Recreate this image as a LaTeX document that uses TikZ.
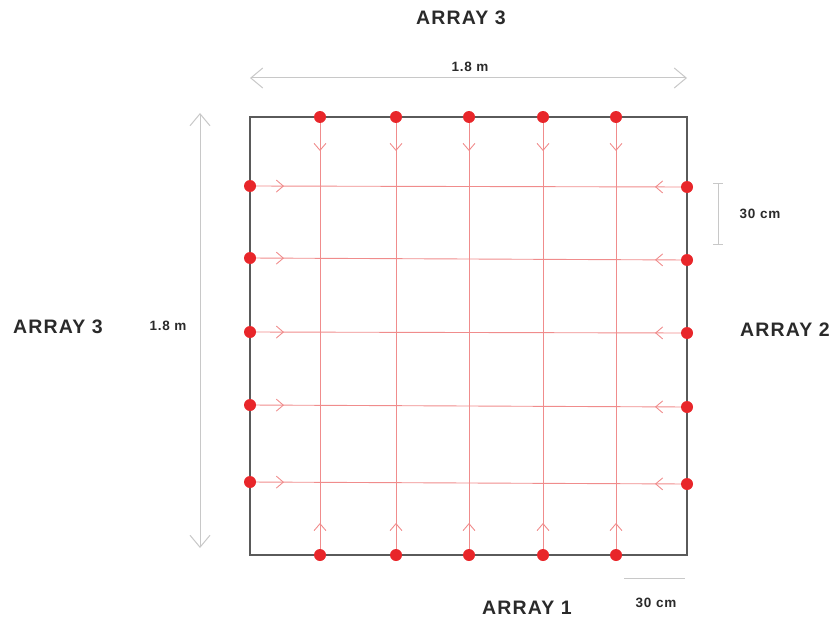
\documentclass[tikz,border=0pt]{standalone}
\usepackage{fontspec}
\setmainfont{Liberation Sans}
\newfontfamily\lblfont[LetterSpace=6]{Liberation Sans}
\usetikzlibrary{arrows.meta,decorations.markings}
\definecolor{dotred}{HTML}{E8262A}
\definecolor{linered}{HTML}{F08C8C}
\definecolor{dimgray}{HTML}{C8C8C8}
\definecolor{boxgray}{HTML}{5A5A5A}
\definecolor{txt}{HTML}{2A2A2A}
\tikzset{
  dot/.style={circle,fill=dotred,inner sep=0pt,minimum size=12pt},
  vline/.style={draw=linered,line width=0.9pt,postaction={decorate},
    decoration={markings,
      mark=at position 34pt with {\arrow[linered,line width=0.9pt]{Straight Barb[length=7pt,width=12pt]}},
      mark=at position -32pt with {\arrowreversed[linered,line width=0.9pt]{Straight Barb[length=7pt,width=12pt]}}}},
  dimline/.style={draw=dimgray,line width=1pt},
  dimtip/.style={draw=dimgray,line width=1pt,{Straight Barb[length=12pt,width=20pt]}-{Straight Barb[length=12pt,width=20pt]}},
  bigtxt/.style={font=\lblfont\fontsize{19.5}{22}\selectfont\bfseries,text=txt},
  smalltxt/.style={font=\lblfont\fontsize{13.5}{15}\selectfont\bfseries,text=txt},
}
\begin{document}
\begin{tikzpicture}[x=1pt,y=-1pt]
\useasboundingbox (0,0) rectangle (834,623);
% frame corners
\coordinate (TL) at (250,117);
\coordinate (BR) at (687,555);
% top / bottom positions
\foreach \i/\x in {1/320,2/396,3/469,4/543,5/616}{
  \coordinate (t\i) at (\x,117);
  \coordinate (b\i) at (\x,555);
}
% left / right positions
\foreach \i/\yl/\yr in {1/186/187,2/258/260,3/332/333,4/405/407,5/482/484}{
  \coordinate (l\i) at (250,\yl);
  \coordinate (r\i) at (687,\yr);
}
% red lines
\foreach \i in {1,...,5}{
  \path[vline] (t\i) -- (b\i);
  \path[vline] (l\i) -- (r\i);
}
% frame
\draw[boxgray,line width=1.6pt] (TL) rectangle (BR);
% dots
\foreach \i in {1,...,5}{
  \node[dot] (dt\i) at (t\i) {};
  \node[dot] (db\i) at (b\i) {};
  \node[dot] (dl\i) at (l\i) {};
  \node[dot] (dr\i) at (r\i) {};
}
% dimensions
\coordinate (hA) at (250,78);
\coordinate (hB) at (687,78);
\draw[dimtip] (hA) -- (hB);
\node[smalltxt] (hlab) at (470,67) {1.8 m};
\coordinate (vA) at (200,113);
\coordinate (vB) at (200,548);
\draw[dimtip] (vA) -- (vB);
\node[smalltxt] (vlab) at (168,326) {1.8 m};
\coordinate (sA) at (718,183);
\coordinate (sB) at (718,244);
\draw[dimline] (sA) -- (sB);
\draw[dimline] ([xshift=-5pt]sA) -- ([xshift=5pt]sA);
\draw[dimline] ([xshift=-5pt]sB) -- ([xshift=5pt]sB);
\node[smalltxt] (slab) at (760,214) {30 cm};
\coordinate (uA) at (624,578);
\coordinate (uB) at (685,578);
\draw[dimline] (uA) -- (uB);
\node[smalltxt] (ulab) at (656,603) {30 cm};
% array labels
\node[bigtxt] (a3top) at (461,18) {ARRAY 3};
\node[bigtxt] (a3left) at (58,327) {ARRAY 3};
\node[bigtxt] (a2) at (785,330) {ARRAY 2};
\node[bigtxt] (a1) at (527,608) {ARRAY 1};
\end{tikzpicture}
\end{document}
